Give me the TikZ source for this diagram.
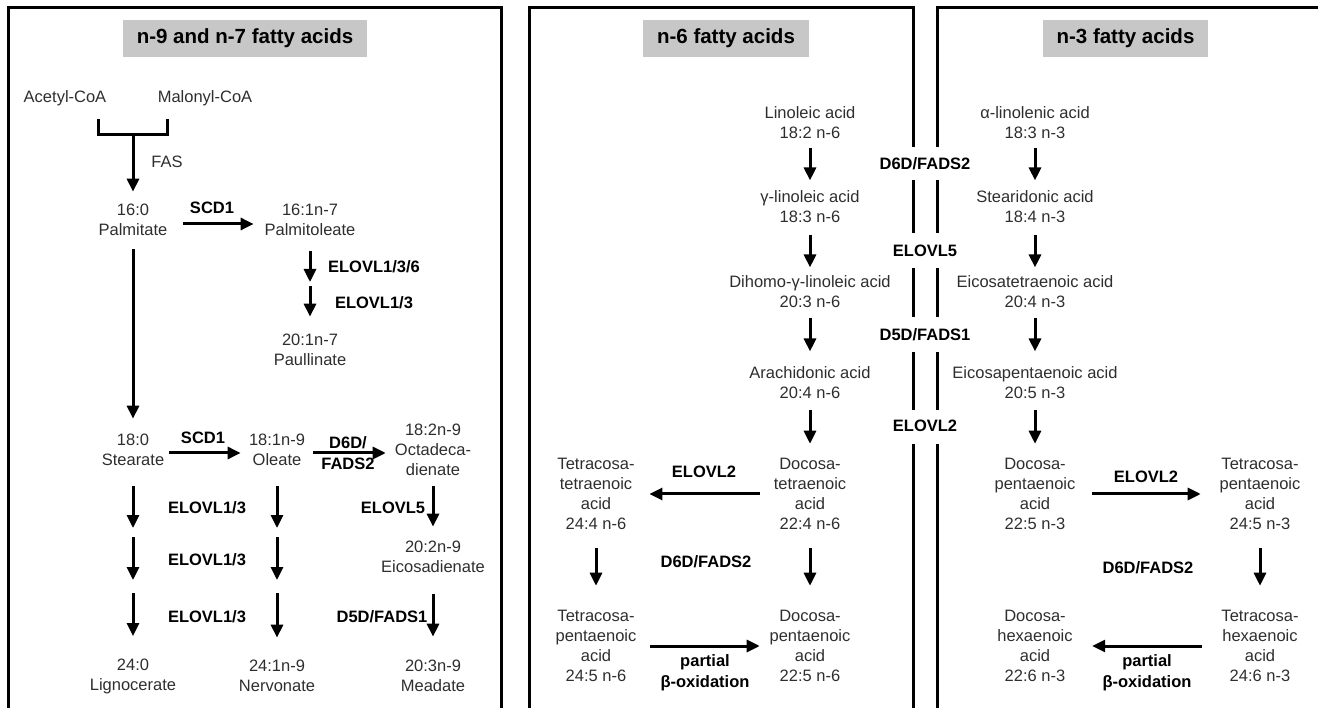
\documentclass[tikz,border=0pt]{standalone}
\usepackage{fontspec}
\setmainfont{Liberation Sans}
\usetikzlibrary{arrows.meta}
\tikzset{>={Triangle[width=12pt,length=13pt]},
every picture/.append style={
    line join=miter,
    line width=3pt
  },
fa/.style={align=center, inner sep=0pt, text=black!82, font=\fontsize{16.5}{20}\selectfont},
enz/.style={align=center, inner sep=0pt, font=\fontsize{16.5}{21}\selectfont\bfseries},
hdr/.style={fill=black!22, inner xsep=14pt, minimum height=37pt, font=\fontsize{20.5}{24}\selectfont\bfseries},
rx/.style 2 args={->, shorten <=#1pt, shorten >=#2pt}}

\begin{document}
\begin{tikzpicture}[x=1pt,y=-1pt]
        \useasboundingbox (0,0) rectangle (1318,708);
        \draw (8,708) -- (8,8) -- (501,8) -- (501,708);
        \draw (529,708) -- (529,8) -- (913,8) -- (913,147);
        \draw (937,147) -- (937,8) -- (1318,8);
        \foreach \a/\b in {180/233, 268/317, 352/410, 444/708} {
            \draw (913,\a) -- (913,\b);
            \draw (937,\a) -- (937,\b);
        }
        \node [hdr] (h97) at (245,38.5) {n-9 and n-7 fatty acids};
        \node [hdr] (h6) at (726,38.5) {n-6 fatty acids};
        \node [hdr] (h3) at (1125.5,38.5) {n-3 fatty acids};

        \node [fa] (acet) at (65,98) {Acetyl-CoA};
        \node [fa] (mal) at (205,98) {Malonyl-CoA};
        \coordinate (brl) at (98,119);
        \coordinate (brr) at (167,119);
        \coordinate (jn) at (133,135);
        \draw (brl) |- (jn) -| (brr);
        \node [fa] (pal) at (133,220) {16:0\\Palmitate};
        \draw [->, shorten >=11pt] (jn) -- (jn |- pal.north);
        \node [fa] (fas) at (167,162) {FAS};
        \node [fa] (palo) at (310,220) {16:1n-7\\Palmitoleate};
        \draw [rx={14.5}{9.5}] ([yshift=-4pt]pal.east) -- ([yshift=-4pt]palo.west);
        \node [enz] (scd1a) at (212,208) {SCD1};
        \coordinate (c18n7) at (310,284);
        \node [fa] (paul) at (310,350) {20:1n-7\\Paullinate};
        \draw [rx={14}{2}] (palo) -- (c18n7);
        \draw [rx={2}{16}] (c18n7) -- (paul);
        \node [enz] (el136) at (374,267) {ELOVL1/3/6};
        \node [enz] (el13a) at (374,303) {ELOVL1/3};

        \node [fa] (st) at (133,450) {18:0\\Stearate};
        \node [fa] (ol) at (277,450) {18:1n-9\\Oleate};
        \node [fa] (oct) at (433,450) {18:2n-9\\Octadeca-\\dienate};
        \node [fa] (eic) at (433,557) {20:2n-9\\Eicosadienate};
        \node [fa] (lig) at (133,676) {24:0\\Lignocerate};
        \node [fa] (ner) at (277,676) {24:1n-9\\Nervonate};
        \node [fa] (mea) at (433,676) {20:3n-9\\Meadate};
        \draw [rx={12}{14}] (pal) -- (st);
        \draw [rx={3.6}{6.9}] ([yshift=-3pt]st.east) -- ([yshift=-3pt]ol.west);
        \node [enz] (scd1b) at (203,438) {SCD1};
        \draw [rx={6.9}{7.7}] ([yshift=-3pt]ol.east) -- ([yshift=-3pt]oct.west);
        \node [enz] (d6da) at (348,453) {D6D/\\FADS2};
        \coordinate (s20) at (133,532);
        \coordinate (s22) at (133,587);
        \coordinate (o20) at (277,532);
        \coordinate (o22) at (277,587);
        \draw [rx={19}{4}] (st) -- (s20);
        \draw [rx={5}{7}] (s20) -- (s22);
        \draw [rx={6}{21}] (s22) -- (lig);
        \draw [rx={19}{4}] (ol) -- (o20);
        \draw [rx={5}{7}] (o20) -- (o22);
        \draw [rx={6}{21}] (o22) -- (ner);
        \draw [rx={9}{13}] (oct) -- (eic);
        \draw [rx={20}{22}] (eic) -- (mea);
        \node [enz] (el13b) at (207,508) {ELOVL1/3};
        \node [enz] (el13c) at (207,560) {ELOVL1/3};
        \node [enz] (el13d) at (207,617) {ELOVL1/3};
        \node [enz] (el5a) at (393,508) {ELOVL5};
        \node [enz] (d5da) at (382,617) {D5D/FADS1};

        \node [fa] (lin) at (810,123) {Linoleic acid\\18:2 n-6};
        \node [fa] (gla) at (810,207) {γ-linoleic acid\\18:3 n-6};
        \node [fa] (dgla) at (810,292) {Dihomo-γ-linoleic acid\\20:3 n-6};
        \node [fa] (ara) at (810,383) {Arachidonic acid\\20:4 n-6};
        \node [fa] (dta) at (810,494) {Docosa-\\tetraenoic\\acid\\22:4 n-6};
        \node [fa] (tta) at (596,494) {Tetracosa-\\tetraenoic\\acid\\24:4 n-6};
        \node [fa] (tpa6) at (596,646) {Tetracosa-\\pentaenoic\\acid\\24:5 n-6};
        \node [fa] (dpa6) at (810,646) {Docosa-\\pentaenoic\\acid\\22:5 n-6};
        \draw [rx={7}{9}] (lin) -- (gla);
        \draw [rx={10}{7}] (gla) -- (dgla);
        \draw [rx={8}{14}] (dgla) -- (ara);
        \draw [rx={9}{13}] (ara) -- (dta);
        \draw [rx={12.5}{13.4}] (dta) -- (tta);
        \draw [rx={17}{23}] (dta) -- (dpa6);
        \draw [rx={17}{23}] (tta) -- (tpa6);
        \draw [rx={12.4}{8.4}] (tpa6) -- (dpa6);
        \node [enz] (el2a) at (704,472) {ELOVL2};
        \node [enz] (d6db) at (706,562) {D6D/FADS2};
        \node [enz] (pbo6) at (705,673) {partial\\β-oxidation};

        \node [enz] (d6dc) at (925,164) {D6D/FADS2};
        \node [enz] (el5b) at (925,251) {ELOVL5};
        \node [enz] (d5db) at (925,335) {D5D/FADS1};
        \node [enz] (el2b) at (925,426) {ELOVL2};

        \node [fa] (ala) at (1035,123) {α-linolenic acid\\18:3 n-3};
        \node [fa] (sda) at (1035,207) {Stearidonic acid\\18:4 n-3};
        \node [fa] (eta) at (1035,292) {Eicosatetraenoic acid\\20:4 n-3};
        \node [fa] (epa) at (1035,383) {Eicosapentaenoic acid\\20:5 n-3};
        \node [fa] (dpa3) at (1035,494) {Docosa-\\pentaenoic\\acid\\22:5 n-3};
        \node [fa] (tpa3) at (1260,494) {Tetracosa-\\pentaenoic\\acid\\24:5 n-3};
        \node [fa] (tha) at (1260,646) {Tetracosa-\\hexaenoic\\acid\\24:6 n-3};
        \node [fa] (dha) at (1035,646) {Docosa-\\hexaenoic\\acid\\22:6 n-3};
        \draw [rx={7}{9}] (ala) -- (sda);
        \draw [rx={10}{7}] (sda) -- (eta);
        \draw [rx={8}{14}] (eta) -- (epa);
        \draw [rx={9}{13}] (epa) -- (dpa3);
        \draw [rx={15.4}{17.4}] (dpa3) -- (tpa3);
        \draw [rx={17}{23}] (tpa3) -- (tha);
        \draw [rx={18.4}{18.1}] (tha) -- (dha);
        \node [enz] (el2c) at (1146,477) {ELOVL2};
        \node [enz] (d6dd) at (1148,568) {D6D/FADS2};
        \node [enz] (pbo3) at (1147,673) {partial\\β-oxidation};
    \end{tikzpicture}
\end{document}
